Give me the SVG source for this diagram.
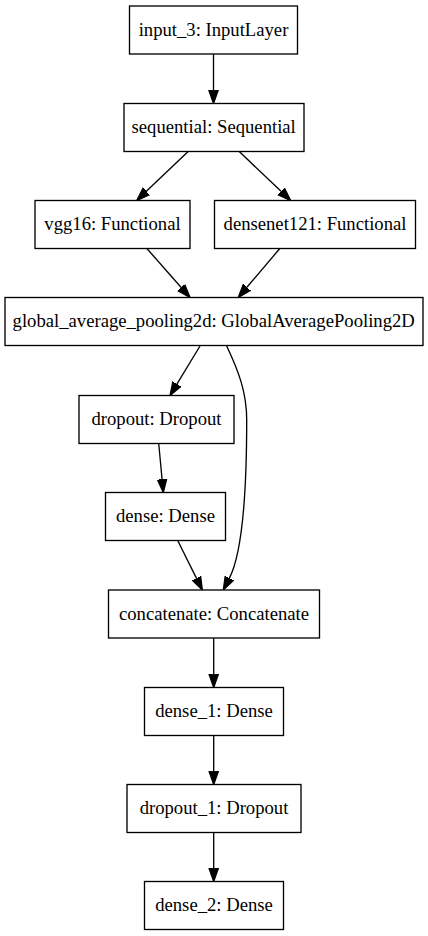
<svg xmlns="http://www.w3.org/2000/svg" width="428" height="936" viewBox="0 0 428 936">
<style>
.n rect{fill:#fff;stroke:#000;stroke-width:1.33}
.n text{font-family:"Liberation Serif","Times New Roman",serif;font-size:18.67px;text-anchor:middle;fill:#000}
.e path{fill:none;stroke:#000;stroke-width:1.33;marker-end:url(#ah)}
</style>
<defs>
<marker id="ah" markerUnits="userSpaceOnUse" markerWidth="16" markerHeight="12" refX="0" refY="6" orient="auto" viewBox="0 0 16 12">
<path d="M0,1.33 L13.33,6 L0,10.67 z" fill="#000" stroke="#000" stroke-width="1.33"/>
</marker>
</defs>
<rect width="428" height="936" fill="#fff"/>
<g id="edges" class="e">
<path d="M213.5,54 L213.5,90.2"/>
<path d="M188.7,151 L146.35,191.3"/>
<path d="M238.7,151 L281.05,191.3"/>
<path d="M146.7,248.3 L181.2,287.5"/>
<path d="M280,248.3 L246.9,287.3"/>
<path d="M200,346 L176.9,384.1"/>
<path d="M158.7,443.3 L162.06,479.2"/>
<path d="M177.7,540.5 L196.4,578.1"/>
<path d="M226.7,346 C239,372 246.7,393 246.7,420 C246.7,490 243.1,551.5 229.4,578.15"/>
<path d="M213.7,638 L213.7,674.2"/>
<path d="M213.7,735.5 L213.7,771.2"/>
<path d="M213.7,832.7 L213.7,868.2"/>
</g>
<g id="input_3" class="n"><rect x="129.5" y="6" width="168" height="48"/><text x="213.5" y="35.6">input_3: InputLayer</text></g>
<g id="sequential" class="n"><rect x="124" y="103.5" width="180" height="48"/><text x="213.7" y="133">sequential: Sequential</text></g>
<g id="vgg16" class="n"><rect x="35" y="200.5" width="155" height="48"/><text x="112.5" y="230">vgg16: Functional</text></g>
<g id="densenet121" class="n"><rect x="214.5" y="200.5" width="201" height="48"/><text x="315" y="230">densenet121: Functional</text></g>
<g id="global_average_pooling2d" class="n"><rect x="5" y="297.5" width="418" height="48"/><text x="213.7" y="327">global_average_pooling2d: GlobalAveragePooling2D</text></g>
<g id="dropout" class="n"><rect x="79" y="395.5" width="155" height="48"/><text x="156.5" y="425">dropout: Dropout</text></g>
<g id="dense" class="n"><rect x="105.5" y="492.5" width="120" height="48"/><text x="165.5" y="522">dense: Dense</text></g>
<g id="concatenate" class="n"><rect x="108.5" y="590" width="211" height="48"/><text x="214" y="619.5">concatenate: Concatenate</text></g>
<g id="dense_1" class="n"><rect x="144.5" y="687.5" width="139" height="48"/><text x="214" y="717">dense_1: Dense</text></g>
<g id="dropout_1" class="n"><rect x="127" y="784.5" width="174" height="48"/><text x="214" y="814">dropout_1: Dropout</text></g>
<g id="dense_2" class="n"><rect x="144.5" y="881.5" width="139" height="48"/><text x="214" y="911">dense_2: Dense</text></g>
</svg>
